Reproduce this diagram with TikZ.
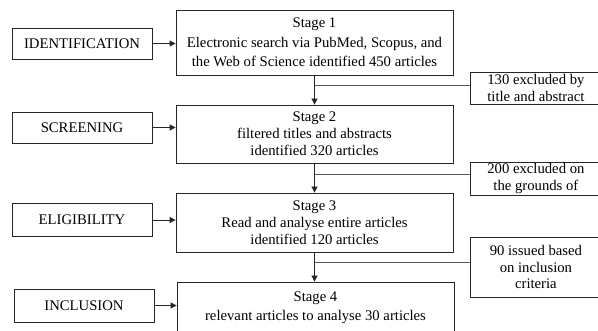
\documentclass[tikz,border=0pt]{standalone}
\usepackage{fontspec}
\setmainfont{Liberation Serif}
\usetikzlibrary{arrows.meta}
\begin{document}
\begin{tikzpicture}[x=1pt,y=-1pt,
  box/.style={draw=black!85, line width=0.8pt, rectangle, inner sep=0pt,
    font=\fontsize{14.7}{17}\selectfont, align=center},
  exbox/.style={box, minimum width=131pt, anchor=west, font=\fontsize{14.7}{16.5}\selectfont},
  arr/.style={draw=black!85, line width=0.8pt, -{Triangle[length=6pt,width=6pt]}},
  ln/.style={draw=black!65, line width=0.8pt}]
\useasboundingbox (0,0) rectangle (598,331);
\clip (0,0) rectangle (598,331);
% phase boxes
\node[box, minimum width=140pt, minimum height=31pt] (id) at (82,43.5) {IDENTIFICATION};
\node[box, minimum width=140pt, minimum height=31pt] (sc) at (82,127.5) {SCREENING};
\node[box, minimum width=140pt, minimum height=33pt] (el) at (82,220) {ELIGIBILITY};
\node[box, minimum width=140pt, minimum height=33pt] (in) at (84,305.5) {INCLUSION};
% stage boxes
\node[box, minimum width=277pt, minimum height=65pt, font=\fontsize{14.7}{19.5}\selectfont] (s1) at (314.5,42.5)
  {Stage 1\\Electronic search via PubMed, Scopus, and\\the Web of Science identified 450 articles};
\node[box, minimum width=277pt, minimum height=58pt] (s2) at (314.5,134)
  {Stage 2\\filtered titles and abstracts\\identified 320 articles};
\node[box, minimum width=277pt, minimum height=59pt] (s3) at (314.5,222.5)
  {Stage 3\\Read and analyse entire articles\\identified 120 articles};
\node[box, minimum width=277pt, minimum height=52pt, font=\fontsize{14.7}{19}\selectfont] (s4) at (315.5,308)
  {Stage 4\\relevant articles to analyse 30 articles};
% exclusion boxes
\node[exbox, minimum height=32pt] (ex1) at (470,88) {130 excluded by\\title and abstract};
\node[exbox, minimum height=33pt] (ex2) at (470,178.5) {200 excluded on\\the grounds of};
\node[exbox, minimum height=60pt] (ex3) at (470,267) {90 issued based\\on inclusion\\criteria};
% arrows
\draw[arr] (id.east) -- (id.east -| s1.west);
\draw[arr] (sc.east) -- (sc.east -| s2.west);
\draw[arr] (el.east) -- (el.east -| s3.west);
\draw[arr] (in.east) -- (in.east -| s4.west);
\draw[arr] (s1.south) -- (s2.north);
\draw[arr] (s2.south) -- (s3.north);
\draw[arr] (s3.south) -- (s3.south |- s4.north);
% branches
\coordinate (b1) at (314.5,85);
\coordinate (b2) at (314.5,174);
\coordinate (b3) at (314.5,262);
\draw[ln] (b1) -- (b1 -| ex1.west);
\draw[ln] (b2) -- (b2 -| ex2.west);
\draw[ln] (b3) -- (b3 -| ex3.west);
\end{tikzpicture}
\end{document}
